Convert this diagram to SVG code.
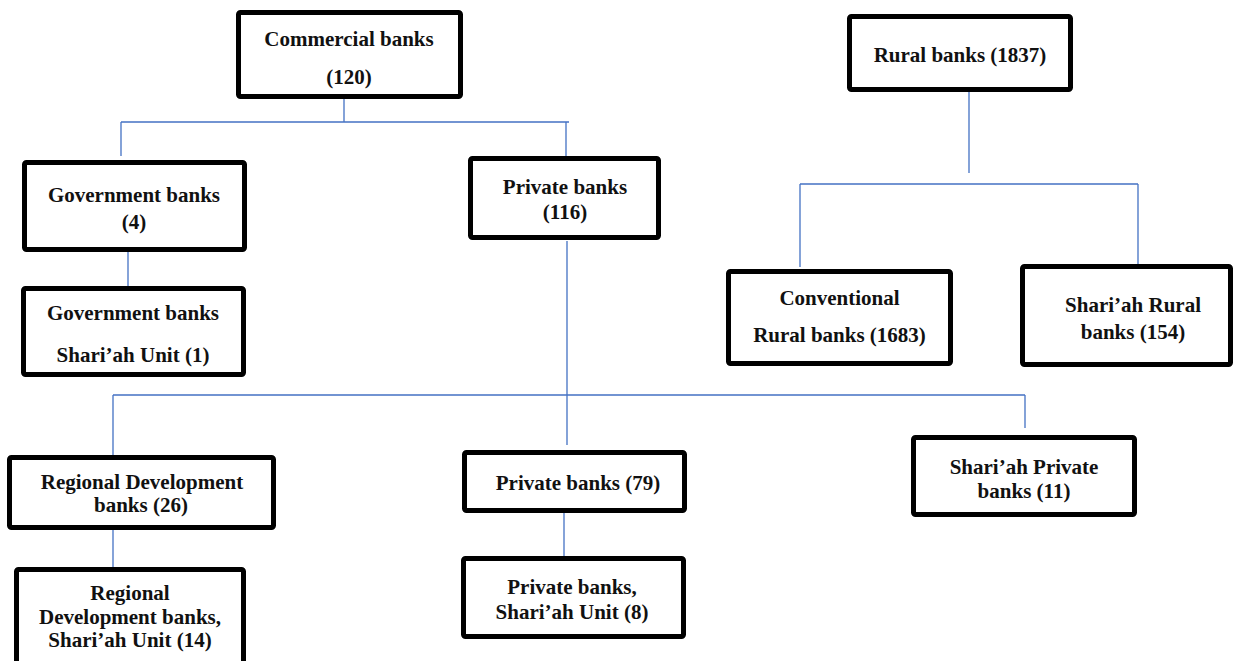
<svg xmlns="http://www.w3.org/2000/svg" width="1237" height="661" viewBox="0 0 1237 661">
<style>
.box{fill:#fff;stroke:#000;stroke-width:5;}
.t{font-family:"Liberation Serif","Times New Roman",serif;font-weight:bold;font-size:21px;fill:#111;text-anchor:middle;}
.c{stroke:#4472C4;stroke-width:1.3;fill:none;}
</style>
<rect width="1237" height="661" fill="#fff"/>
<g id="connectors">
<path class="c" d="M344 99V122M121 122H569M121 122V156M566 122V156"/>
<path class="c" d="M128 252V287"/>
<path class="c" d="M567 241V445M113 395H1025M113 395V457M1025 395V428"/>
<path class="c" d="M564 513V556"/>
<path class="c" d="M113 530V567"/>
<path class="c" d="M969 92V173M800 184H1138M800 184V267M1138 184V265"/>
</g>
<g id="commercial"><rect class="box" x="238.5" y="12.5" width="222" height="84" rx="2"/><text class="t" x="349" y="46">Commercial banks</text><text class="t" x="349" y="84">(120)</text></g>
<g id="rural"><rect class="box" x="849.5" y="16.5" width="221" height="73" rx="2"/><text class="t" x="960" y="62">Rural banks (1837)</text></g>
<g id="government"><rect class="box" x="24.5" y="162.5" width="220" height="87" rx="2"/><text class="t" x="134" y="202">Government banks</text><text class="t" x="134" y="229">(4)</text></g>
<g id="private116"><rect class="box" x="470.5" y="158.5" width="188" height="79" rx="2"/><text class="t" x="565" y="194">Private banks</text><text class="t" x="565" y="219">(116)</text></g>
<g id="gov-sharia"><rect class="box" x="23.5" y="288.5" width="220" height="86" rx="2"/><text class="t" x="133" y="320">Government banks</text><text class="t" x="133" y="362">Shari’ah Unit (1)</text></g>
<g id="conventional"><rect class="box" x="728.5" y="271.5" width="222" height="92" rx="2"/><text class="t" x="839.5" y="305">Conventional</text><text class="t" x="839.5" y="342">Rural banks (1683)</text></g>
<g id="sharia-rural"><rect class="box" x="1022.5" y="266.5" width="208" height="98" rx="2"/><text class="t" x="1133" y="312">Shari’ah Rural</text><text class="t" x="1133" y="339">banks (154)</text></g>
<g id="regional"><rect class="box" x="9.5" y="457.5" width="264" height="70" rx="2"/><text class="t" x="142" y="489">Regional Development</text><text class="t" x="141" y="512">banks (26)</text></g>
<g id="private79"><rect class="box" x="464.5" y="452.5" width="220" height="58" rx="2"/><text class="t" x="578" y="490">Private banks (79)</text></g>
<g id="sharia-private"><rect class="box" x="913.5" y="437.5" width="221" height="77" rx="2"/><text class="t" x="1024" y="474">Shari’ah Private</text><text class="t" x="1024" y="498">banks (11)</text></g>
<g id="regional-sharia"><rect class="box" x="16.5" y="569.5" width="227" height="100" rx="2"/><text class="t" x="130" y="600">Regional</text><text class="t" x="130" y="624">Development banks,</text><text class="t" x="130" y="647">Shari’ah Unit (14)</text></g>
<g id="private-sharia"><rect class="box" x="463.5" y="558.5" width="220" height="78" rx="2"/><text class="t" x="572" y="594">Private banks,</text><text class="t" x="572" y="619">Shari’ah Unit (8)</text></g>
</svg>
